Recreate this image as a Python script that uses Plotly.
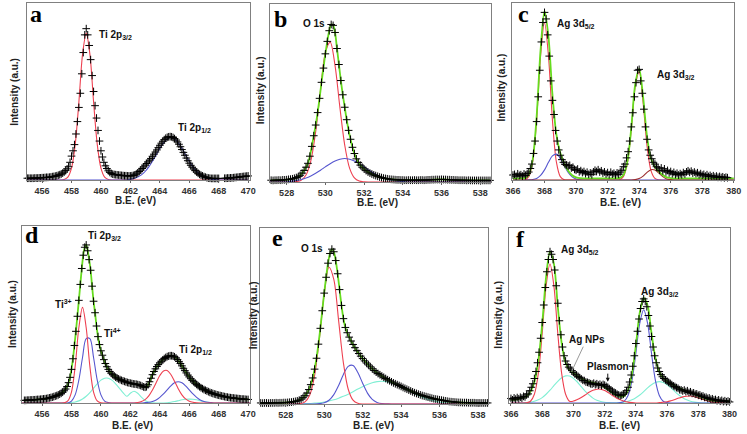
import numpy as np
import plotly.graph_objects as go

W, H = 747, 434

def grid(start, stop, step):
    n = int(round((stop - start) / step)) + 1
    return np.round(start + step * np.arange(n), 2)

# ---------------- Panel a : Ti 2p (pristine) ----------------
a_E = grid(455.0, 470.0, 0.1)
a_data = [1.0,1.0,1.0,1.0,1.0,1.1,1.1,1.1,1.2,1.2,
          1.3,1.3,1.4,1.5,1.5,1.6,1.7,1.9,2.0,2.2,
          2.4,2.7,3.0,3.4,3.9,4.5,5.3,6.3,7.5,10.0,
          13.5,16.5,20.0,26.0,33.0,41.0,49.0,60.0,72.0,82.0,
          85.5,82.0,76.0,68.0,59.0,50.0,42.0,35.0,28.0,22.0,
          16.5,13.0,10.0,8.0,6.5,5.2,4.3,3.7,3.3,3.1,
          3.0,2.9,2.8,2.7,2.6,2.5,2.4,2.4,2.3,2.3,
          2.3,2.4,2.6,2.9,3.4,4.0,4.8,5.6,6.5,7.4,
          8.4,9.3,10.2,11.2,12.2,13.4,14.6,15.8,17.0,18.3,
          19.6,20.8,21.9,22.8,23.6,24.1,24.4,24.5,24.4,24.0,
          23.4,22.6,21.5,20.2,18.8,17.2,15.6,14.0,12.4,10.9,
          9.5,8.3,7.2,6.2,5.3,4.5,3.8,3.2,2.7,2.3,
          1.9,1.6,1.3,1.1,1.0,0.9,0.9,0.9,0.9,0.9,
          0.9,None,None,None,1.0,1.0,1.1,1.1,1.2,1.2,
          1.3,1.4,1.5,1.6,1.7,1.8,1.9,2.0,2.1,2.2,
          2.3]
a_C = grid(455.0, 470.0, 0.25)
a_red = [0,0,0,0,0,0,0,0,0,0,
         0.3,1.6,6.7,20,44,71,83,71,44,20,6.7,1.6,0.3,
         0,0,0,0,0,0,0,0,0,0,
         0,0,0,0,0,0,0,0,0,0,
         0,0,0,0,0,0,0,0,0,0,
         0,0,0,0,0,0,0,0]
a_blue = [0,0,0,0,0,0,0,0,0,0,
          0,0,0,0,0,0,0,0,0,0,
          0,0,0,0,0,0,0,0,
          0.5,0.9,1.7,2.9,4.8,7.4,10.6,14.2,17.9,21.0,23.2,24.0,
          23.2,21.0,17.9,14.2,10.6,7.4,4.8,2.9,1.7,0.9,0.5,0.2,
          0,0,0,0,0,0,0,0,0]

# ---------------- Panel b : O 1s (pristine) ----------------
b_E = grid(527.2, 538.5, 0.1)
b_data = [1.0,0.9,1.0,1.0,1.1,1.0,1.2,1.2,1.3,1.5,
          1.6,1.8,2.1,2.5,3.0,3.8,5.0,6.5,8.3,10.5,
          14.5,20.0,26.0,32.0,39.0,47.0,56.0,64.0,72.0,79.0,
          85.0,88.5,88.0,84.0,75.0,66.0,57.0,49.0,42.0,35.0,
          29.0,24.0,19.5,16.0,13.0,11.0,9.5,8.3,7.3,6.4,
          5.6,5.0,4.5,4.0,3.6,3.2,2.8,2.5,2.2,2.0,
          1.8,1.6,1.5,1.4,1.3,1.2,1.2,1.1,1.1,1.0,
          1.0,1.1,1.0,1.0,1.1,1.0,1.0,1.1,1.1,1.0,
          1.1,1.2,1.2,1.3,1.3,1.4,1.4,1.4,1.5,1.4,
          1.4,1.3,1.3,1.2,1.2,1.1,1.1,1.0,1.0,1.0,
          1.0,0.9,1.0,0.9,0.9,0.9,0.9,0.9,0.9,0.9,
          0.9,0.9,0.9,0.9]
b_C = grid(527.0, 539.0, 0.25)
b_red = [0,0,0,0,0,0,
         0.2,1.0,3.9,11.9,28.3,51.7,72.7,78.6,65.4,41.9,20.7,7.8,2.3,0.5,0.1,
         0,0,0,0,0,0,0,0,0,0,0,0,0,0,0,0,0,0,0,0,0,0,0,0,0,0,0,0]
b_blue = [0,0,0,0,0,
          0.5,0.8,1.4,2.2,3.4,4.9,6.6,8.5,10.3,11.8,12.8,13.2,
          12.8,11.8,10.3,8.5,6.6,4.9,3.4,2.2,1.4,0.8,0.5,0.2,
          0,0,0,0,0,0,0,0,0,0,0,0,0,0,0,0,0,0,0,0]

# ---------------- Panel c : Ag 3d (pristine) ----------------
c_E = grid(366.0, 379.6, 0.1)
c_data = [2.8,3.2,2.1,3.5,2.6,3.0,2.2,3.4,2.5,3.6,
          4.5,6.5,9.0,15.0,22.0,33.0,47.0,62.0,78.0,89.0,
          94.7,91.0,82.0,70.0,56.0,45.0,37.0,28.0,22.0,17.0,
          14.0,11.5,10.0,8.8,8.5,7.9,8.3,6.8,7.2,6.0,
          5.5,6.2,4.6,5.3,4.2,4.8,3.6,4.4,3.2,4.0,
          3.0,4.6,5.5,4.8,5.8,4.5,5.2,3.9,4.6,3.4,
          4.2,3.0,4.4,3.3,3.8,2.9,4.0,3.2,4.5,5.5,
          7.5,9.0,12.5,16.0,22.0,30.0,38.0,47.0,55.0,62.0,
          62.5,56.0,49.0,40.0,30.0,23.0,17.0,14.0,12.0,10.0,
          9.0,7.5,6.8,5.5,6.8,5.2,6.3,4.6,5.4,4.0,
          4.8,3.5,4.3,3.1,3.8,2.8,3.6,3.0,4.2,3.4,
          4.6,5.2,4.3,5.0,3.9,4.5,3.6,4.1,3.0,3.6,
          2.7,3.2,2.2,3.0,2.0,2.6,1.8,2.4,1.6,2.2,
          1.5,2.0,1.4,1.8,1.2,1.6,1.3]
c_C = grid(366.0, 380.0, 0.25)
c_red = [0,0,0,
         0.2,1.9,10.3,34.1,70.0,89.0,70.0,34.1,10.3,1.9,0.2,
         0,0,0,0,0,0,0,0,0,0,0,0,0,
         0.2,1.9,9.4,28.4,52.9,61.1,43.7,19.3,5.3,0.9,0.1,
         0,0,0,0,0,0,0,0,0,0,0,0,0,0,0,0,0,0,0]
c_blue = [0,0,0,0,
          0.1,0.3,0.9,2.6,5.7,10.0,13.6,14.6,12.4,8.2,4.3,1.8,0.6,0.1,
          0,0,0,0,0,0,0,0,0,0,0,0,0,0,0,0,0,0,0,0,
          0,0,0,0,0,0,0,0,0,0,0,0,0,0,0,0,0,0,0]
c_dred = [0,0,0,0,0,0,0,0,0,0,0,0,0,0,0,0,0,0,0,0,
          0,0,0,0,0,0,0,0,0,0,0,
          0.2,0.8,2.2,4.3,5.8,5.6,3.9,1.9,0.6,0.2,
          0,0,0,0,0,0,0,0,0,0,0,0,0,0,0,0]
c_fit = [0.9,0.9,1.0,1.1,2.9,11.5,35.9,73.5,95.6,80.9,
         48.6,25.8,15.2,9.3,5.2,2.7,1.5,1.0,0.9,0.9,
         0.9,0.9,0.9,0.9,0.9,0.9,1.0,1.1,2.8,10.3,
         29.3,54.0,62.8,46.8,24.5,12.0,7.4,4.9,2.8,1.5,
         1.1,0.9,0.9,0.9,0.9,0.9,0.9,0.9,0.9,0.9,
         0.9,0.9,0.9,0.9,0.9,0.9,0.9]

# ---------------- Panel d : Ti 2p (Ag loaded) ----------------
d_E = grid(454.8, 470.0, 0.1)
d_data = [1.5,1.5,1.6,1.6,1.7,1.7,1.8,1.8,1.9,2.0,
          2.0,2.1,2.2,2.3,2.4,2.5,2.7,2.9,3.1,3.3,
          3.6,3.9,4.2,4.6,5.0,5.5,6.1,6.9,7.9,9.3,
          11.5,14.5,19.0,25.0,32.5,40.5,49.0,58.0,67.0,76.0,
          83.5,88.0,89.3,86.0,81.0,75.0,66.0,57.5,51.0,43.5,
          37.5,33.0,29.5,27.0,24.5,22.3,20.5,19.0,17.8,16.8,
          16.0,15.3,14.6,14.1,13.6,13.2,12.8,12.5,12.2,11.9,
          11.6,11.4,11.2,11.0,10.8,10.7,10.6,10.4,10.2,9.9,
          9.5,9.1,8.9,9.2,10.3,12.0,14.0,16.0,17.8,19.3,
          20.6,21.7,22.7,23.6,24.4,25.1,25.7,26.2,26.5,26.7,
          26.7,26.5,26.1,25.5,24.6,23.5,22.3,21.0,19.6,18.3,
          17.0,15.8,14.7,13.7,12.8,12.0,11.2,10.5,9.8,9.2,
          8.6,8.1,7.6,7.2,6.8,6.4,6.0,5.7,5.4,5.1,
          4.9,4.6,4.4,4.2,4.0,3.8,3.6,3.4,3.3,3.1,
          3.0,2.9,2.8,2.7,2.6,2.5,2.4,2.3,2.2,2.2,
          2.1,2.0,2.0]
d_C = grid(454.5, 470.5, 0.25)
d_red = [0,0,0,0,0,0,0,0,0,0,0,0,
         0.1,1.2,6.2,20.7,42.5,54.0,42.5,20.7,6.2,1.2,0.1,
         0,0,0,0,0,0,0,0,0,
         0.3,0.8,1.9,4.0,7.3,11.4,15.5,18.1,18.4,16.1,12.3,8.1,4.6,2.3,1.0,0.4,0.1,
         0,0,0,0,0,0,0,0,0,0,0,0,0,0,0,0]
d_blue = [0,0,0,0,0,0,0,0,0,0,0,0,0,0,
          1.1,4.6,12.9,25.7,36.4,36.4,25.7,12.9,4.6,1.1,0.2,
          0,0,0,0,0,0,0,0,0,
          0.2,0.4,0.9,1.7,3.2,5.1,7.4,9.7,11.4,12.0,11.4,9.7,7.4,5.1,3.2,1.7,0.9,0.4,0.2,
          0,0,0,0,0,0,0,0,0,0,0,0]
d_cyan = [0,0,0,0,0,0,0,0,0,0,0,0,0,0,
          0.3,0.6,1.2,2.3,3.8,5.9,8.4,10.8,12.9,14.0,
          14.0,12.9,10.8,8.4,5.9,3.8,5.5,6.6,5.5,3.3,
          1.4,0.4,0.1,0,0,0,0.1,0.4,0.8,1.3,
          1.8,2.1,2.2,2.1,1.8,1.3,0.8,0.4,0.2,
          0,0,0,0,0,0,0,0,0,0,0,0]

# ---------------- Panel e : O 1s (Ag loaded) ----------------
e_E = grid(526.7, 538.5, 0.1)
e_data = [0.6,0.5,0.6,0.6,0.5,0.6,0.6,0.6,0.7,0.6,
          0.7,0.7,0.8,0.8,0.9,1.0,1.1,1.3,1.5,1.8,
          2.2,2.8,3.6,4.7,6.2,8.2,11.0,14.8,19.8,26.0,
          34.0,43.0,53.0,63.0,72.0,80.0,85.5,88.0,86.5,81.5,
          74.0,65.0,56.0,48.5,43.5,40.5,38.0,35.8,33.8,32.0,
          30.3,28.7,27.2,25.8,24.5,23.3,22.2,21.1,20.0,19.0,
          18.1,17.3,16.6,15.9,15.2,14.5,13.8,13.2,12.6,12.0,
          11.5,11.0,10.5,10.0,9.4,8.9,8.4,7.9,7.4,6.9,
          6.4,6.0,5.6,5.2,4.8,4.5,4.2,3.9,3.6,3.3,
          3.0,2.8,2.6,2.4,2.2,2.0,1.8,1.6,1.4,1.3,
          1.2,1.1,1.0,0.9,0.9,0.8,0.8,0.8,0.7,0.7,
          0.7,0.7,0.6,0.6,0.6,0.6,0.6,0.6,0.6]
e_C = grid(526.5, 538.75, 0.25)
e_red = [0,0,0,0,0,0,0,0,0,
         0.2,1.2,5.1,16.1,37.1,62.6,77.7,70.8,47.4,23.3,8.4,2.2,0.4,
         0,0,0,0,0,0,0,0,0,0,0,0,0,0,0,0,0,0,0,0,0,0,0,0,0,0,0,0]
e_blue = [0,0,0,0,0,0,0,0,0,0,0,0,0,
          0.2,0.7,2.1,5.3,10.5,16.8,21.4,21.9,17.9,11.8,6.2,2.6,0.9,0.2,0.1,
          0,0,0,0,0,0,0,0,0,0,0,0,0,0,0,0,0,0,0,0,0,0]
e_cyan = [0,0,0,0,0,0,0,0,0,0,
          0.2,0.3,0.5,0.7,1.1,1.7,2.4,3.3,4.4,5.6,7.0,8.5,9.8,11.1,12.1,12.7,12.9,
          12.7,12.1,11.1,9.8,8.5,7.0,5.6,4.4,3.3,2.4,1.7,1.1,0.7,0.5,0.3,0.2,
          0,0,0,0,0,0,0]

# ---------------- Panel f : Ag 3d (Ag loaded) ----------------
f_E = grid(366.0, 380.0, 0.1)
f_data = [2.6,1.8,2.9,2.2,3.1,2.4,3.3,2.8,3.8,3.5,
          4.6,5.2,7.0,9.0,11.0,14.0,18.0,23.0,29.0,37.0,
          46.0,56.0,66.0,75.0,82.0,86.5,85.0,82.0,76.0,67.0,
          57.0,47.0,39.0,32.0,27.0,24.0,22.0,20.5,19.5,18.5,
          17.5,16.5,16.0,15.2,14.5,13.8,13.0,12.8,12.0,11.8,
          11.5,11.0,10.8,11.3,10.5,11.0,10.2,10.7,10.0,10.6,
          10.2,9.5,9.0,8.2,7.5,6.8,6.2,5.7,5.0,4.6,
          4.2,4.5,5.0,5.8,7.0,9.0,12.0,16.0,21.0,27.0,
          34.0,41.0,48.0,54.0,58.0,59.5,58.0,55.0,50.0,44.0,
          38.0,32.0,27.0,23.0,20.0,18.0,16.2,15.0,14.0,13.2,
          12.5,11.8,11.2,10.5,9.8,9.4,8.8,8.4,7.6,7.5,
          6.9,7.4,6.5,7.0,6.0,6.4,5.5,5.8,5.0,5.2,
          4.4,4.6,3.8,4.0,3.2,3.3,2.6,2.9,2.1,2.4,
          1.7,2.0,1.3,1.8,1.0,1.5,0.8,1.3,0.7,1.1,
          0.6]
f_C = grid(366.0, 380.0, 0.25)
f_red = [0,0,0,0,
         0.1,1.0,5.0,16.7,39.7,66.8,79.4,66.8,39.7,16.7,5.0,1.0,
         1.1,2.0,3.2,4.6,6.1,7.3,7.9,7.9,7.1,5.8,4.3,2.9,1.8,1.0,0.5,0.2,
         0,0,0,0,0,0,
         0.2,0.4,0.7,1.3,2.0,2.8,3.5,3.9,4.0,3.6,2.9,2.2,1.4,0.8,0.4,0.2,0.1,0,0]
f_cyan = [0,0,0,0.1,0.2,0.5,1.0,1.8,3.1,5.0,
          7.3,9.9,12.4,14.4,15.5,15.4,14.1,12.0,9.4,6.8,
          4.6,2.8,1.6,0.9,0.4,0.2,0.1,0.1,0.2,0.5,
          1.0,1.8,3.0,4.6,6.5,8.6,10.4,11.7,12.2,11.7,
          10.4,8.6,6.5,4.6,3.0,1.8,1.0,0.5,0.2,
          0,0,0,0,0,0,0,0]
f_blue = [0,0,0,0,0,0,0,0,0,0,0,0,0,0,0,0,0,0,0,0,0,0,0,0,0,0,0,0,
          0.2,1.0,4.3,12.9,28.4,45.6,53.3,45.6,28.4,12.9,4.3,1.0,0.2,
          0,0,0,0,0,0,0,0,0,0,0,0,0,0,0,0]
f_fit = [1.8,2.0,2.4,3.0,4.0,6.5,12.0,24.0,45.0,72.0,
         86.5,79.5,55.0,34.0,23.0,19.0,17.1,15.5,14.1,12.9,
         12.2,11.6,11.0,10.3,9.0,7.5,5.8,4.4,3.7,4.0,
         7.3,16.4,32.9,51.7,60.0,55.7,40.0,25.8,17.9,14.3,
         12.5,11.1,9.7,8.6,7.7,6.7,6.0,5.1,4.1,3.2,
         2.4,1.8,1.4,1.2,1.1,1.0,1.0]

# ---------------- tick labels ----------------
ti_ticks = [456, 458, 460, 462, 464, 466, 468, 470]
o_ticks = [528, 530, 532, 534, 536, 538]
ag_ticks = [366, 368, 370, 372, 374, 376, 378, 380]

RED = '#ee4050'
BLUE = '#5656cf'
GREEN = '#66dc1e'
CYAN = '#80efd4'
DRED = '#9a2b2b'

panels = [
    dict(n=1, box=(20, 248, 3, 180), xr=[454.95, 470.15], ticks=ti_ticks,
         E=a_E, D=a_data, C=a_C, comps=[(a_red, RED), (a_blue, BLUE)], fit=None),
    dict(n=2, box=(268, 493, 4, 182), xr=[527.14, 538.54], ticks=o_ticks,
         E=b_E, D=b_data, C=b_C, comps=[(b_red, RED), (b_blue, BLUE)], fit=(b_E, b_data)),
    dict(n=3, box=(515, 741, 3, 180), xr=[365.96, 380.02], ticks=ag_ticks,
         E=c_E, D=c_data, C=c_C, comps=[(c_red, RED), (c_blue, BLUE), (c_dred, DRED)], fit=(c_C, c_fit)),
    dict(n=4, box=(15, 248, 226, 403), xr=[454.62, 470.15], ticks=ti_ticks,
         E=d_E, D=d_data, C=d_C, comps=[(d_cyan, CYAN), (d_blue, BLUE), (d_red, RED)], fit=(d_E, d_data)),
    dict(n=5, box=(258, 490, 228, 404), xr=[526.67, 538.51], ticks=o_ticks,
         E=e_E, D=e_data, C=e_C, comps=[(e_cyan, CYAN), (e_blue, BLUE), (e_red, RED)], fit=(e_E, e_data)),
    dict(n=6, box=(512, 737, 228, 403), xr=[365.9, 380.04], ticks=ag_ticks,
         E=f_E, D=f_data, C=f_C, comps=[(f_cyan, CYAN), (f_blue, BLUE), (f_red, RED)], fit=(f_C, f_fit)),
]

fig = go.Figure()
layout = dict(width=W, height=H, margin=dict(l=0, r=0, t=0, b=0),
              paper_bgcolor='white', plot_bgcolor='white', showlegend=False)

def px2paper(px, py):
    return px / W, 1 - py / H

for p in panels:
    n = p['n']
    sx = '' if n == 1 else str(n)
    xa, ya = 'x' + sx, 'y' + sx
    assert len(p['E']) == len(p['D']), (n, len(p['E']), len(p['D']))
    for vals, col in p['comps']:
        assert len(vals) == len(p['C']), (n, col, len(vals), len(p['C']))
        fig.add_trace(go.Scatter(x=p['C'], y=vals, mode='lines', xaxis=xa, yaxis=ya,
                                 line=dict(color=col, width=1.1, shape='spline', smoothing=0.9),
                                 hoverinfo='skip'))
    if p['fit'] is not None:
        fx, fy = p['fit']
        assert len(fx) == len(fy), (n, 'fit')
        fig.add_trace(go.Scatter(x=fx, y=fy, mode='lines', xaxis=xa, yaxis=ya,
                                 line=dict(color=GREEN, width=1.8, shape='spline', smoothing=0.9),
                                 hoverinfo='skip'))
    fig.add_trace(go.Scatter(x=p['E'], y=p['D'], mode='markers', xaxis=xa, yaxis=ya,
                             cliponaxis=False,
                             marker=dict(symbol='cross-thin', size=5.5,
                                         line=dict(width=1.0, color='black'))))
    x0, x1, y0, y1 = p['box']
    layout['xaxis' + sx] = dict(domain=[x0 / W, x1 / W], range=p['xr'], anchor=ya,
                                showline=True, mirror=True, linecolor='#808080', linewidth=1,
                                ticks='outside', ticklen=2, tickcolor='#666', tickwidth=1,
                                tickvals=p['ticks'], showgrid=False, zeroline=False,
                                tickfont=dict(family='Arial', size=9, color='#333', weight='bold'))
    layout['yaxis' + sx] = dict(domain=[1 - y1 / H, 1 - y0 / H], range=[0, 100], anchor=xa,
                                showline=True, mirror=True, linecolor='#808080', linewidth=1,
                                showticklabels=False, ticks='', showgrid=False, zeroline=False)

anns = []
def txt(px, py, text, size=10, xanchor='left', family='Arial', bold=True, angle=0, color='#111'):
    x, y = px2paper(px, py)
    anns.append(dict(x=x, y=y, xref='paper', yref='paper', text=text, showarrow=False,
                     xanchor=xanchor, yanchor='middle', textangle=angle,
                     font=dict(family=family, size=size, color=color,
                               weight='bold' if bold else 'normal')))

# axis titles
for cx, cy in [(131, 201), (378, 202), (625, 202), (128, 425), (374, 425), (624, 425)]:
    txt(cx, cy, 'B.E. (eV)', size=10, xanchor='center', color='#222')
for cx, cy in [(8, 92), (258, 90), (503, 88), (5, 314), (251, 315), (500, 315)]:
    txt(cx, cy, 'Intensity (a.u.)', size=10, xanchor='center', angle=-90, color='#222')

# panel letters
for cx, cy, l in [(30, 14, 'a'), (279, 19, 'b'), (526, 14, 'c'),
                  (25, 235, 'd'), (276, 238, 'e'), (523, 239, 'f')]:
    txt(cx, cy, l, size=24, xanchor='center', family='Liberation Serif', color='#000')

# peak labels
for px, py, t in [(92, 35, 'Ti 2p<sub>3/2</sub>'), (172, 128, 'Ti 2p<sub>1/2</sub>'),
                  (300, 24, 'O 1s'),
                  (558, 24, 'Ag 3d<sub>5/2</sub>'), (660, 75, 'Ag 3d<sub>3/2</sub>'),
                  (80, 236, 'Ti 2p<sub>3/2</sub>'), (47, 304, 'Ti<sup>3+</sup>'),
                  (97, 333, 'Ti<sup>4+</sup>'), (173, 350, 'Ti 2p<sub>1/2</sub>'),
                  (298, 248, 'O 1s'),
                  (563, 250, 'Ag 3d<sub>5/2</sub>'), (644, 292, 'Ag 3d<sub>3/2</sub>')]:
    txt(px, py, t, size=10)

anns.append(dict(x=369.88, y=17.9, xref='x6', yref='y6', text='<b>Ag NPs</b>',
                 showarrow=True, ax=15, ay=-32, arrowhead=0, arrowwidth=1, arrowcolor='#9a9a9a',
                 font=dict(family='Arial', size=10, color='#111')))
anns.append(dict(x=372.2, y=12.2, xref='x6', yref='y6', text='<b>Plasmon</b>',
                 showarrow=True, ax=0, ay=-15, arrowhead=2, arrowsize=0.8, arrowwidth=1,
                 arrowcolor='#111', font=dict(family='Arial', size=10, color='#111')))

layout['annotations'] = anns
fig.update_layout(**layout)
fig.write_html('out.html', config={'displayModeBar': False},
               post_script="document.body.style.margin='0';document.body.style.overflow='hidden';")
